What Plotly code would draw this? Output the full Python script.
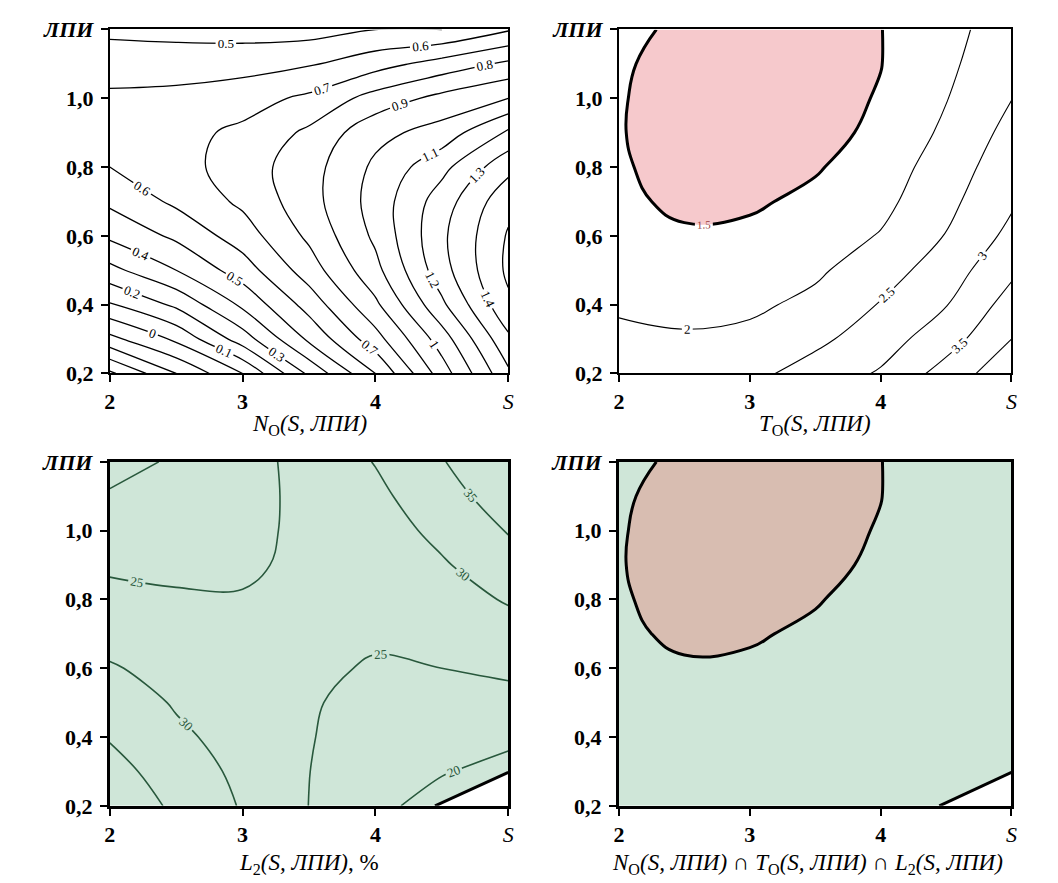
import plotly.graph_objects as go

# ---------------- data ----------------
S_VALUES = [2.0, 2.5, 3.0, 3.5, 4.0, 4.5, 5.0]
LPI_VALUES = [0.2, 0.3, 0.4, 0.5, 0.6, 0.7, 0.8, 0.9, 1.0, 1.1, 1.2]

# N_O(S, LPI): rows follow LPI_VALUES, columns follow S_VALUES
NO_ROW_02 = [-0.42, -0.20, 0.00, 0.32, 0.60, 0.95, 1.28]
NO_ROW_03 = [-0.13, 0.02, 0.25, 0.52, 0.76, 1.05, 1.38]
NO_ROW_04 = [0.09, 0.22, 0.42, 0.64, 0.88, 1.18, 1.48]
NO_ROW_05 = [0.27, 0.40, 0.55, 0.75, 0.97, 1.26, 1.52]
NO_ROW_06 = [0.42, 0.52, 0.65, 0.82, 1.02, 1.28, 1.51]
NO_ROW_07 = [0.52, 0.62, 0.72, 0.86, 1.04, 1.25, 1.47]
NO_ROW_08 = [0.60, 0.66, 0.75, 0.86, 1.02, 1.17, 1.37]
NO_ROW_09 = [0.65, 0.67, 0.72, 0.82, 0.97, 1.04, 1.22]
NO_ROW_10 = [0.62, 0.63, 0.66, 0.72, 0.84, 0.93, 1.00]
NO_ROW_11 = [0.55, 0.55, 0.56, 0.59, 0.66, 0.74, 0.82]
NO_ROW_12 = [0.48, 0.47, 0.46, 0.46, 0.50, 0.50, 0.59]

# T_O(S, LPI)
TO_ROW_02 = [2.22, 2.25, 2.36, 2.72, 3.05, 3.70, 4.35]
TO_ROW_03 = [2.08, 2.04, 2.12, 2.38, 2.78, 3.28, 4.00]
TO_ROW_04 = [1.95, 1.90, 1.91, 2.12, 2.53, 2.98, 3.70]
TO_ROW_05 = [1.83, 1.75, 1.75, 1.92, 2.28, 2.75, 3.40]
TO_ROW_06 = [1.70, 1.55, 1.59, 1.75, 2.03, 2.52, 3.13]
TO_ROW_07 = [1.58, 1.42, 1.44, 1.60, 1.86, 2.37, 2.93]
TO_ROW_08 = [1.53, 1.40, 1.36, 1.46, 1.73, 2.25, 2.78]
TO_ROW_09 = [1.52, 1.34, 1.31, 1.38, 1.58, 2.10, 2.65]
TO_ROW_10 = [1.53, 1.32, 1.28, 1.34, 1.53, 1.98, 2.49]
TO_ROW_11 = [1.56, 1.33, 1.28, 1.33, 1.49, 1.90, 2.36]
TO_ROW_12 = [1.66, 1.38, 1.30, 1.35, 1.49, 1.85, 2.25]

# L2(S, LPI), %
L2_ROW_02 = [39.0, 34.0, 29.6, 24.95, 21.5, 17.6, 14.5]
L2_ROW_03 = [37.0, 32.3, 29.0, 25.05, 22.3, 20.4, 18.1]
L2_ROW_04 = [34.6, 30.8, 28.4, 25.2, 23.2, 22.1, 21.3]
L2_ROW_05 = [32.5, 29.6, 27.9, 25.4, 23.6, 23.6, 23.6]
L2_ROW_06 = [30.4, 28.5, 27.4, 25.8, 24.6, 25.0, 25.8]
L2_ROW_07 = [28.4, 27.3, 26.8, 26.2, 25.6, 26.6, 28.1]
L2_ROW_08 = [26.3, 25.6, 25.3, 26.3, 26.3, 28.0, 30.4]
L2_ROW_09 = [24.3, 23.9, 24.3, 26.0, 27.0, 29.5, 32.8]
L2_ROW_10 = [22.3, 22.6, 23.6, 26.2, 27.8, 31.2, 35.3]
L2_ROW_11 = [20.4, 21.6, 23.2, 26.4, 28.9, 33.0, 37.5]
L2_ROW_12 = [18.6, 20.5, 23.1, 26.7, 30.2, 34.7, 39.5]

NO_LEVELS = [-0.4, 1.5, 0.1]       # start, end, step
TO_LEVELS = [2.0, 4.0, 0.5]
TO_THRESHOLD = 1.5
L2_LEVELS = [20, 35, 5]
L2_THRESHOLD = 18

X_TICK_VALUES = [2, 3, 4, 5]
X_TICK_TEXT = ["<b>2</b>", "<b>3</b>", "<b>4</b>", "<i>S</i>"]
Y_TICK_VALUES = [0.2, 0.4, 0.6, 0.8, 1.0, 1.2]
Y_TICK_TEXT = ["<b>0,2</b>", "<b>0,4</b>", "<b>0,6</b>", "<b>0,8</b>", "<b>1,0</b>", "<b><i>ЛПИ</i></b>"]

PANEL_TITLES = [
    "<i>N</i><sub>O</sub><i>(S, ЛПИ)</i>",
    "<i>T</i><sub>O</sub><i>(S, ЛПИ)</i>",
    "<i>L</i><sub>2</sub><i>(S, ЛПИ)</i>, %",
    "<i>N</i><sub>O</sub><i>(S, ЛПИ)</i> ∩ <i>T</i><sub>O</sub><i>(S, ЛПИ)</i> ∩ <i>L</i><sub>2</sub><i>(S, ЛПИ)</i>",
]

NO_Z = [NO_ROW_02, NO_ROW_03, NO_ROW_04, NO_ROW_05, NO_ROW_06, NO_ROW_07,
        NO_ROW_08, NO_ROW_09, NO_ROW_10, NO_ROW_11, NO_ROW_12]
TO_Z = [TO_ROW_02, TO_ROW_03, TO_ROW_04, TO_ROW_05, TO_ROW_06, TO_ROW_07,
        TO_ROW_08, TO_ROW_09, TO_ROW_10, TO_ROW_11, TO_ROW_12]
L2_Z = [L2_ROW_02, L2_ROW_03, L2_ROW_04, L2_ROW_05, L2_ROW_06, L2_ROW_07,
        L2_ROW_08, L2_ROW_09, L2_ROW_10, L2_ROW_11, L2_ROW_12]

# ---------------- styling ----------------
SERIF = "Liberation Serif"
PINK = "rgb(246,201,204)"
GREEN = "rgb(207,230,216)"
BROWN = "rgb(216,189,177)"
DARK_GREEN = "rgb(40,88,60)"


def line_trace(z, levels, color, width, xa, ya, label_size, label_color):
    return go.Contour(
        x=S_VALUES, y=LPI_VALUES, z=z, xaxis=xa, yaxis=ya,
        contours=dict(coloring="lines", start=levels[0], end=levels[1], size=levels[2],
                      showlabels=True,
                      labelfont=dict(family=SERIF, size=label_size, color=label_color)),
        colorscale=[[0, color], [1, color]], showscale=False,
        line=dict(width=width, smoothing=1.1), hoverinfo="skip",
    )


def region_trace(z, keep_op, value, fill, xa, ya, labels, label_color="black"):
    # plotly shades the region that violates the constraint, so the operator is flipped
    op = ">" if keep_op == "<" else "<"
    return go.Contour(
        x=S_VALUES, y=LPI_VALUES, z=z, xaxis=xa, yaxis=ya,
        contours=dict(type="constraint", operation=op, value=value, showlabels=labels,
                      labelfont=dict(family=SERIF, size=11, color=label_color)),
        fillcolor=fill, showscale=False,
        line=dict(color="black", width=3, smoothing=1.3), hoverinfo="skip",
    )


fig = go.Figure()
# panel 1
fig.add_trace(line_trace(NO_Z, NO_LEVELS, "black", 1.3, "x", "y", 13, "black"))
# panel 2: region T_O < 1.5 shaded pink
fig.add_trace(region_trace(TO_Z, "<", TO_THRESHOLD, PINK, "x2", "y2", True, "rgb(150,60,60)"))
fig.add_trace(line_trace(TO_Z, TO_LEVELS, "black", 1.1, "x2", "y2", 13, "black"))
# panel 3: region L2 > 18 shaded green
fig.add_trace(region_trace(L2_Z, ">", L2_THRESHOLD, GREEN, "x3", "y3", False))
fig.add_trace(line_trace(L2_Z, L2_LEVELS, DARK_GREEN, 1.6, "x3", "y3", 13, DARK_GREEN))
# panel 4: intersection
fig.add_trace(region_trace(L2_Z, ">", L2_THRESHOLD, GREEN, "x4", "y4", False))
fig.add_trace(region_trace(TO_Z, "<", TO_THRESHOLD, BROWN, "x4", "y4", False))

W, H = 1058, 883
X_DOMAINS = [(105, 508), (620, 1017), (105, 508), (620, 1017)]
Y_DOMAINS = [(18, 372), (18, 372), (463, 817), (463, 817)]
FRAME_W = [2, 2, 3, 3]
TITLE_Y = [425, 425, 877, 877]
TITLE_X_SHIFT = [0, 0, 0, -8]

layout = dict(width=W, height=H, margin=dict(l=0, r=0, t=0, b=0),
              paper_bgcolor="white", plot_bgcolor="white", showlegend=False,
              annotations=[])
for i in range(4):
    sfx = "" if i == 0 else str(i + 1)
    xd = X_DOMAINS[i]
    yd = Y_DOMAINS[i]
    common = dict(showline=True, linecolor="black", linewidth=FRAME_W[i], mirror=True,
                  ticks="outside", ticklen=7, tickwidth=2, tickcolor="black",
                  showgrid=False, zeroline=False,
                  tickfont=dict(family=SERIF, size=22, color="black"))
    layout["xaxis" + sfx] = dict(domain=[xd[0] / W, xd[1] / W], range=[2, 5],
                                 tickvals=X_TICK_VALUES, ticktext=X_TICK_TEXT,
                                 anchor="y" + sfx, ticklabelstandoff=0, **common)
    layout["yaxis" + sfx] = dict(domain=[1 - yd[1] / H, 1 - yd[0] / H], range=[0.2, 1.2],
                                 tickvals=Y_TICK_VALUES, ticktext=Y_TICK_TEXT,
                                 anchor="x" + sfx, ticklabelstandoff=3, **common)
    layout["annotations"].append(dict(
        text=PANEL_TITLES[i], xref="paper", yref="paper",
        x=((xd[0] + xd[1]) / 2 + TITLE_X_SHIFT[i]) / W, y=1 - TITLE_Y[i] / H,
        xanchor="center", yanchor="middle", showarrow=False,
        font=dict(family=SERIF, size=23, color="black")))

fig.update_layout(**layout)
fig.write_html("out.html")
